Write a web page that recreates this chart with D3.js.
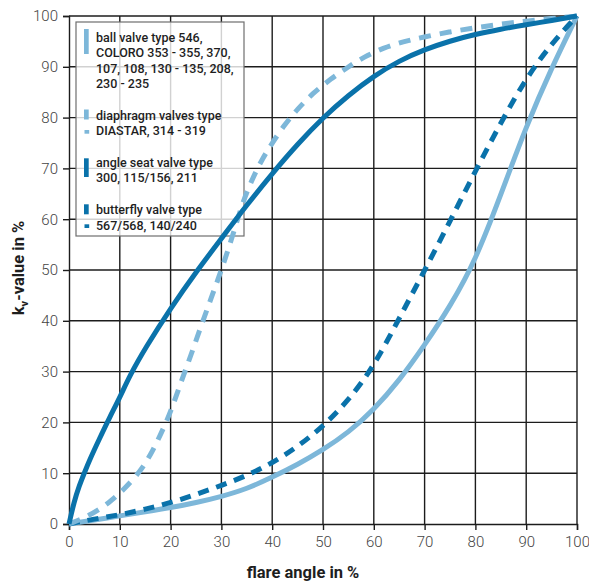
<!DOCTYPE html>
<html>
<head>
<meta charset="utf-8">
<script src="https://cdn.jsdelivr.net/npm/d3@7"></script>
<style>
  html, body { margin: 0; padding: 0; background: #fff; }
  svg { display: block; }
</style>
</head>
<body>
<svg id="chart" width="589" height="583"></svg>
<script>
// ---- data ----
const xTicks = [0, 10, 20, 30, 40, 50, 60, 70, 80, 90, 100];
const yTicks = [0, 10, 20, 30, 40, 50, 60, 70, 80, 90, 100];

// ball valve (light blue, solid)
const ballX = [0, 5, 10, 15, 20, 25, 30, 35, 40, 45, 50, 55, 60, 65, 70, 75, 80, 85, 90, 95, 100];
const ballY = [0, 0.8, 1.6, 2.4, 3.2, 4.2, 5.4, 6.9, 9.2, 11.7, 14.6, 18, 22.5, 28.2, 35.2, 42.8, 51.8, 64.8, 78.3, 89.8, 100];

// diaphragm valves (light blue, dashed)
const diaX = [0, 4, 8, 11, 14, 16, 18, 20, 22, 24, 26, 28, 30, 32, 34, 36, 38, 40, 42.5, 45, 48, 51.5, 55, 58, 62, 66, 70, 75, 80, 85, 90, 95, 100];
const diaY = [0, 1.6, 4.2, 7, 10.3, 13.5, 17.5, 22, 27.8, 33.2, 39, 44.5, 50, 56, 62.8, 67.8, 71.8, 75, 78.7, 81.7, 84.8, 87.6, 90, 91.9, 93.8, 95, 95.9, 96.9, 97.7, 98.4, 99, 99.5, 100];

// angle seat valve (dark blue, solid)
const angleX = [0, 1, 2, 3, 4, 6, 8, 10, 12, 15, 20, 25, 30, 35, 40, 45, 50, 55, 60, 65, 70, 75, 80, 85, 90, 95, 100];
const angleY = [0, 4.4, 7.5, 10, 12.5, 16.8, 21, 24.9, 29.3, 34.6, 42.5, 49.6, 56.2, 62.8, 69, 74.8, 80, 84.4, 88.2, 91.2, 93.4, 95.1, 96.4, 97.4, 98.3, 99.1, 100];

// butterfly valve (dark blue, dashed)
const flyX = [0, 5, 10, 15, 20, 25, 30, 35, 40, 45, 50, 55, 60, 65, 70, 75, 80, 85, 90, 95, 100];
const flyY = [0, 1, 1.8, 2.9, 4.2, 5.8, 7.6, 9.5, 12, 15.2, 19.2, 24.3, 31, 40.5, 49.9, 59.6, 69.5, 79, 87.8, 94.6, 100];

const legendLines = [
  ["ball valve type 546,", "COLORO 353 - 355, 370,", "107, 108, 130 - 135, 208,", "230 - 235"],
  ["diaphragm valves type", "DIASTAR, 314 - 319"],
  ["angle seat valve type", "300, 115/156, 211"],
  ["butterfly valve type", "567/568, 140/240"]
];

const DARK = "#0a72aa";
const LIGHT = "#7db7d9";

// ---- drawing ----
const svg = d3.select("#chart");
const x = d3.scaleLinear().domain([0, 100]).range([69, 577]);
const y = d3.scaleLinear().domain([0, 100]).range([524, 16]);

// grid
const grid = svg.append("g");
grid.selectAll("line.v").data(xTicks.slice(1)).join("line")
  .attr("x1", d => x(d)).attr("x2", d => x(d))
  .attr("y1", y(0)).attr("y2", y(100))
  .attr("stroke", "#1c1c1c").attr("stroke-width", 1.4);
grid.selectAll("line.h").data(yTicks.slice(1)).join("line")
  .attr("x1", x(0)).attr("x2", x(100))
  .attr("y1", d => y(d)).attr("y2", d => y(d))
  .attr("stroke", "#1c1c1c").attr("stroke-width", 1.4);

// axes
const fontTick = "Roboto, 'DejaVu Sans', sans-serif";
const xAxis = svg.append("g").attr("transform", `translate(0,${y(0)})`)
  .call(d3.axisBottom(x).tickValues(xTicks).tickSize(6).tickPadding(6).tickFormat(d3.format("d")));
const yAxis = svg.append("g").attr("transform", `translate(${x(0)},0)`)
  .call(d3.axisLeft(y).tickValues(yTicks).tickSize(6).tickPadding(5).tickFormat(d3.format("d")));
[xAxis, yAxis].forEach(a => {
  a.select(".domain").attr("stroke", "#1c1c1c").attr("stroke-width", 1.4);
  a.selectAll(".tick line").attr("stroke", "#1c1c1c").attr("stroke-width", 1.4);
  a.selectAll(".tick text").attr("fill", "#444").attr("font-size", 15)
    .attr("font-family", fontTick).attr("font-weight", 300);
});

// legend box
const lg = svg.append("g");
lg.append("rect").attr("x", 76).attr("y", 22).attr("width", 168).attr("height", 214)
  .attr("fill", "#fff").attr("fill-opacity", 0.8)
  .attr("stroke", "#6e6e6e").attr("stroke-width", 1.2);

const legendFont = "Roboto, 'DejaVu Sans', sans-serif";
const baselines = [[41.5, 57, 72.5, 88], [119.5, 135], [166.5, 182], [213.5, 229.5]];
legendLines.forEach((lines, i) => {
  lines.forEach((t, j) => {
    lg.append("text").attr("x", 96).attr("y", baselines[i][j]).text(t)
      .attr("font-family", legendFont).attr("font-size", 12.5).attr("font-weight", 500)
      .attr("fill", "#1e1e1e");
  });
});
// swatches
const sw = [
  {x: 84, y: 29, h: 25, c: LIGHT},
  {x: 84, y: 109.5, h: 10, c: LIGHT},
  {x: 84.5, y: 130, h: 3.7, c: LIGHT},
  {x: 84, y: 158.3, h: 18.7, c: DARK},
  {x: 84, y: 204.3, h: 10, c: DARK},
  {x: 84.5, y: 224.3, h: 3.7, c: DARK}
];
lg.selectAll("rect.sw").data(sw).join("rect")
  .attr("x", d => d.x).attr("y", d => d.y).attr("width", 4.7).attr("height", d => d.h)
  .attr("fill", d => d.c);

// curves
const line = d3.line().x(d => x(d[0])).y(d => y(d[1])).curve(d3.curveBasis);
const series = [
  {xs: ballX, ys: ballY, c: LIGHT, dash: null},
  {xs: flyX, ys: flyY, c: DARK, dash: "11,8"},
  {xs: diaX, ys: diaY, c: LIGHT, dash: "12,9"},
  {xs: angleX, ys: angleY, c: DARK, dash: null}
];
series.forEach(s => {
  const pts = s.xs.map((v, i) => [v, s.ys[i]]);
  svg.append("path").datum(pts).attr("d", line)
    .attr("fill", "none").attr("stroke", s.c).attr("stroke-width", 5)
    .attr("stroke-dasharray", s.dash)
    .attr("stroke-linejoin", "round");
});

// axis titles
svg.append("text").attr("x", 303).attr("y", 578).attr("text-anchor", "middle")
  .attr("font-family", legendFont).attr("font-size", 16.5).attr("font-weight", 700)
  .attr("fill", "#1e1e1e").text("flare angle in %");

const yt = svg.append("text").attr("transform", "translate(24,268) rotate(-90)")
  .attr("text-anchor", "middle")
  .attr("font-family", legendFont).attr("font-size", 16.5).attr("font-weight", 700)
  .attr("fill", "#1e1e1e");
yt.append("tspan").text("k");
yt.append("tspan").attr("font-size", 11).attr("dy", 4).text("v");
yt.append("tspan").attr("dy", -4).text("-value in %");
</script>
</body>
</html>
